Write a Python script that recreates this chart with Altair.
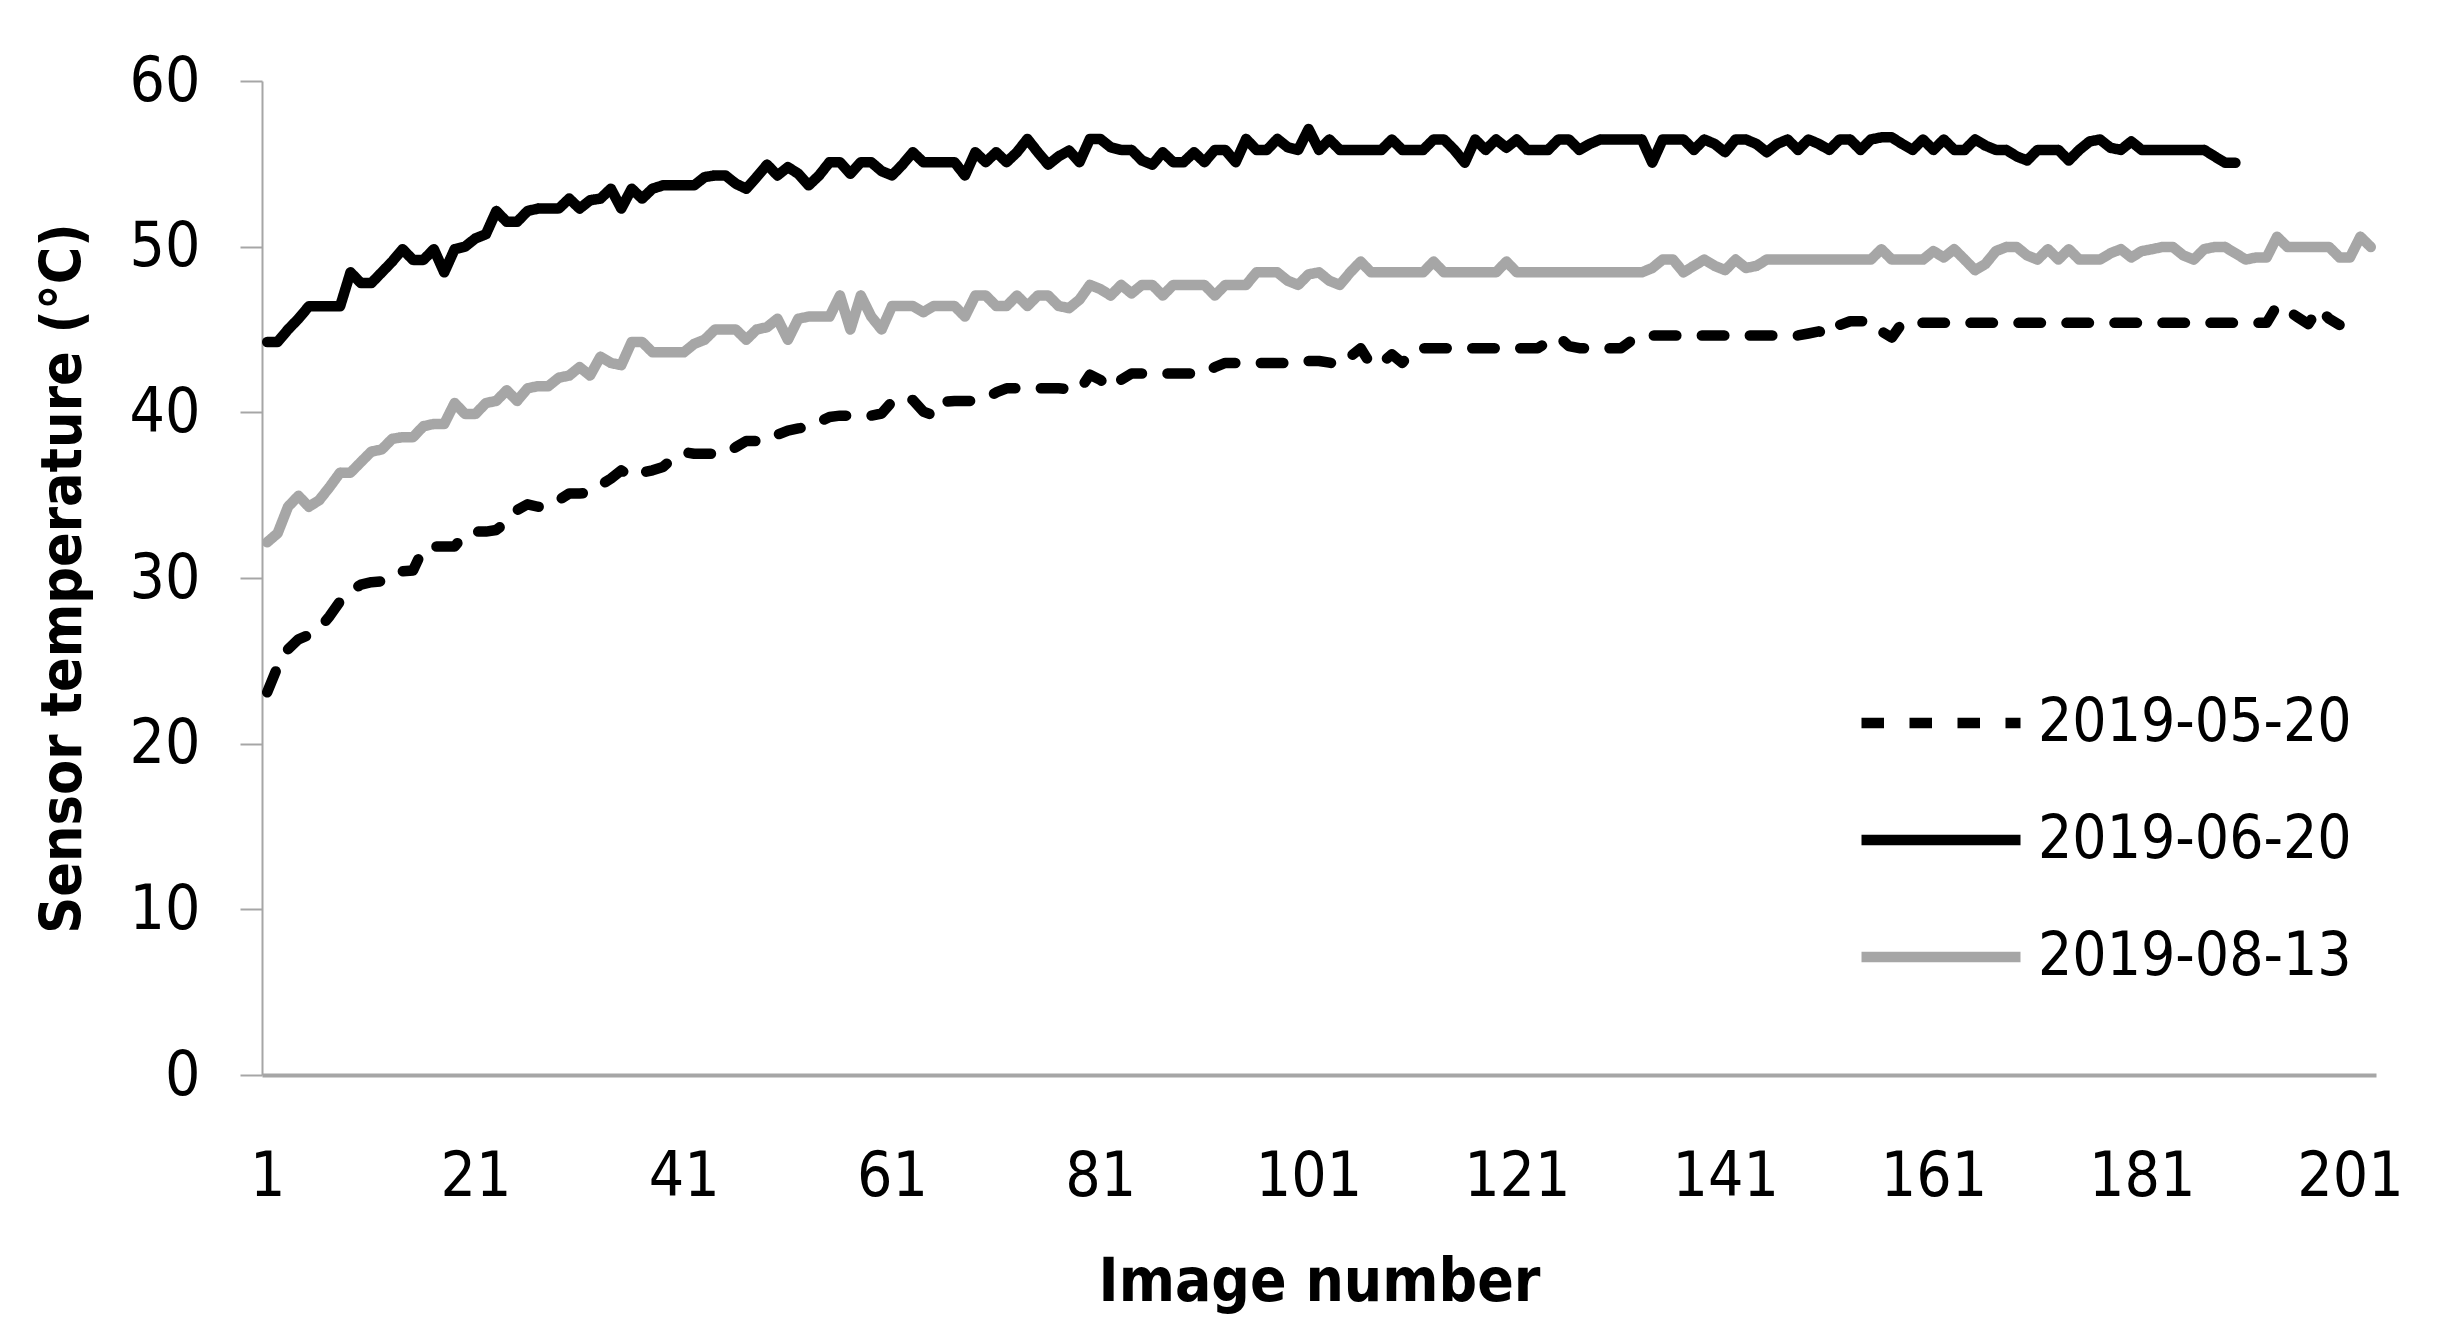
import altair as alt
import pandas as pd

FONT = "DejaVu Sans Condensed, DejaVu Sans"

series_names = ["2019-05-20", "2019-06-20", "2019-08-13"]

temp_0520 = [
    23.1, 24.65, 25.7, 26.3, 26.56, 26.95, 27.7, 28.6, 29.2, 29.6,
    29.75, 29.8, 30.25, 30.4, 30.45, 31.8, 31.9, 31.9, 31.9, 32.67,
    32.8, 32.8, 32.9, 33.4, 34.1, 34.45, 34.3, 34.3, 34.7, 35.1,
    35.1, 35.15, 35.6, 36.0, 36.5, 36.1, 36.36, 36.5, 36.7, 37.25,
    37.6, 37.5, 37.5, 37.5, 37.5, 37.9, 38.27, 38.27, 38.27, 38.65,
    38.9, 39.03, 39.11, 39.42, 39.72, 39.8, 39.8, 39.8, 39.8, 39.93,
    40.64, 40.94, 40.74, 40.05, 39.8, 40.64, 40.69, 40.69, 40.69, 40.82,
    41.2, 41.45, 41.45, 41.45, 41.45, 41.45, 41.45, 41.4, 41.33, 42.27,
    41.96, 41.45, 41.96, 42.34, 42.34, 42.34, 42.34, 42.34, 42.34, 42.34,
    42.34, 42.73, 42.98, 42.98, 42.98, 42.98, 42.98, 42.98, 42.98, 42.98,
    43.1, 43.1, 43.0, 42.85, 43.36, 43.87, 42.85, 42.98, 43.5, 42.98,
    43.74, 43.87, 43.87, 43.87, 43.87, 43.87, 43.87, 43.87, 43.87, 43.87,
    43.87, 43.87, 43.87, 44.25, 44.56, 44.0, 43.87, 43.87, 43.87, 43.87,
    43.87, 44.33, 44.64, 44.64, 44.64, 44.64, 44.64, 44.64, 44.64, 44.64,
    44.64, 44.64, 44.64, 44.64, 44.64, 44.64, 44.64, 44.64, 44.76, 44.89,
    44.64, 45.27, 45.5, 45.5, 45.47, 44.89, 44.51, 45.4, 45.4, 45.4,
    45.4, 45.4, 45.4, 45.4, 45.4, 45.4, 45.4, 45.4, 45.4, 45.4,
    45.4, 45.4, 45.4, 45.4, 45.4, 45.4, 45.4, 45.4, 45.4, 45.4,
    45.4, 45.4, 45.4, 45.4, 45.4, 45.4, 45.4, 45.4, 45.4, 45.4,
    45.4, 45.4, 45.4, 46.46, 46.16, 45.73, 45.32, 46.29, 45.65, 45.27,
]

temp_0620 = [
    44.25, 44.25, 45.0, 45.65, 46.4, 46.4, 46.4, 46.4, 48.45, 47.8,
    47.8, 48.45, 49.1, 49.85, 49.2, 49.2, 49.85, 48.45, 49.85, 50.0,
    50.5, 50.75, 52.15, 51.5, 51.5, 52.15, 52.3, 52.3, 52.3, 52.9,
    52.3, 52.8, 52.9, 53.5, 52.3, 53.5, 52.9, 53.5, 53.7, 53.7,
    53.7, 53.7, 54.2, 54.3, 54.3, 53.8, 53.5, 54.2, 54.95, 54.3,
    54.8, 54.4, 53.7, 54.3, 55.1, 55.1, 54.4, 55.1, 55.1, 54.56,
    54.3, 54.95, 55.7, 55.1, 55.1, 55.1, 55.1, 54.3, 55.7, 55.1,
    55.7, 55.1, 55.7, 56.5, 55.7, 54.95, 55.45, 55.8, 55.1, 56.5,
    56.5, 56.0, 55.84, 55.84, 55.2, 54.95, 55.7, 55.1, 55.1, 55.7,
    55.1, 55.84, 55.84, 55.1, 56.5, 55.84, 55.84, 56.5, 56.0, 55.84,
    57.1, 55.84, 56.47, 55.84, 55.84, 55.84, 55.84, 55.84, 56.47, 55.84,
    55.84, 55.84, 56.47, 56.47, 55.84, 55.07, 56.47, 55.84, 56.47, 55.97,
    56.47, 55.84, 55.84, 55.84, 56.47, 56.47, 55.84, 56.2, 56.47, 56.47,
    56.47, 56.47, 56.47, 55.07, 56.47, 56.47, 56.47, 55.84, 56.47, 56.2,
    55.7, 56.47, 56.47, 56.2, 55.7, 56.2, 56.47, 55.84, 56.47, 56.2,
    55.84, 56.47, 56.47, 55.84, 56.47, 56.6, 56.6, 56.2, 55.84, 56.47,
    55.84, 56.47, 55.84, 55.84, 56.47, 56.1, 55.84, 55.84, 55.45, 55.2,
    55.84, 55.84, 55.84, 55.2, 55.84, 56.35, 56.47, 55.97, 55.84, 56.35,
    55.84, 55.84, 55.84, 55.84, 55.84, 55.84, 55.84, 55.45, 55.07, 55.07,
]

temp_0813 = [
    32.16, 32.7, 34.3, 34.96, 34.3, 34.7, 35.5, 36.36, 36.36, 37.0,
    37.63, 37.76, 38.4, 38.5, 38.5, 39.16, 39.3, 39.3, 40.56, 39.9,
    39.9, 40.56, 40.69, 41.33, 40.69, 41.45, 41.58, 41.58, 42.09, 42.22,
    42.73, 42.22, 43.36, 42.98, 42.85, 44.25, 44.25, 43.62, 43.62, 43.62,
    43.62, 44.13, 44.38, 45.0, 45.0, 45.0, 44.38, 45.0, 45.14, 45.65,
    44.38, 45.65, 45.78, 45.78, 45.78, 47.05, 45.0, 47.05, 45.78, 45.0,
    46.42, 46.42, 46.42, 46.04, 46.42, 46.42, 46.42, 45.78, 47.05, 47.05,
    46.42, 46.42, 47.05, 46.42, 47.05, 47.05, 46.42, 46.29, 46.8, 47.69,
    47.44, 47.05, 47.69, 47.18, 47.69, 47.69, 47.05, 47.69, 47.69, 47.69,
    47.69, 47.05, 47.69, 47.69, 47.69, 48.45, 48.45, 48.45, 47.94, 47.69,
    48.33, 48.45, 47.94, 47.69, 48.45, 49.1, 48.45, 48.45, 48.45, 48.45,
    48.45, 48.45, 49.1, 48.45, 48.45, 48.45, 48.45, 48.45, 48.45, 49.1,
    48.45, 48.45, 48.45, 48.45, 48.45, 48.45, 48.45, 48.45, 48.45, 48.45,
    48.45, 48.45, 48.45, 48.71, 49.22, 49.22, 48.45, 48.84, 49.22, 48.84,
    48.58, 49.22, 48.71, 48.84, 49.22, 49.22, 49.22, 49.22, 49.22, 49.22,
    49.22, 49.22, 49.22, 49.22, 49.22, 49.85, 49.22, 49.22, 49.22, 49.22,
    49.73, 49.35, 49.85, 49.22, 48.58, 48.96, 49.73, 49.98, 49.98, 49.47,
    49.22, 49.85, 49.22, 49.85, 49.22, 49.22, 49.22, 49.6, 49.85, 49.35,
    49.73, 49.85, 49.98, 49.98, 49.47, 49.22, 49.85, 49.98, 49.98, 49.6,
    49.22, 49.35, 49.35, 50.6, 49.98, 49.98, 49.98, 49.98, 49.98, 49.35,
    49.35, 50.6, 49.98,
]

x_tick_values = list(range(1, 202, 20))
y_tick_values = [0, 10, 20, 30, 40, 50, 60]

rows = []
for name, vals in zip(series_names, [temp_0520, temp_0620, temp_0813]):
    for i, v in enumerate(vals):
        rows.append({"image": i + 1, "temp": v, "series": name})
df = pd.DataFrame(rows)

legend = alt.Legend(
    title=None,
    orient="none",
    legendX=1649,
    legendY=612,
    padding=0,
    symbolType="M-5.3,0L5.3,0",
    symbolSize=900,
    symbolStrokeWidth=10.5,
    labelFont=FONT,
    labelFontSize=60,
    labelColor="black",
    labelOffset=67,
    labelLimit=1000,
    rowPadding=57,
)

chart = (
    alt.Chart(df)
    .mark_line(strokeWidth=10.5, strokeCap="round", strokeJoin="round")
    .encode(
        x=alt.X(
            "image:Q",
            scale=alt.Scale(domain=[0.5, 203.5], nice=False, zero=False),
            axis=alt.Axis(
                values=x_tick_values,
                title="Image number",
                ticks=False,
                tickSize=0,
                grid=False,
                labelPadding=71,
                labelFont=FONT,
                labelFontSize=62,
                labelColor="black",
                labelBaseline="top",
                labelFlush=False,
                labelOverlap=False,
                domainColor="#a6a6a6",
                domainWidth=4,
                titleFont=FONT,
                titleFontSize=60,
                titleFontWeight="bold",
                titleColor="black",
                titleBaseline="alphabetic",
                titleY=225,
            ),
        ),
        y=alt.Y(
            "temp:Q",
            scale=alt.Scale(domain=[0, 60], nice=False),
            axis=alt.Axis(
                values=y_tick_values,
                title="Sensor temperature (°C)",
                grid=False,
                ticks=True,
                tickSize=22,
                tickWidth=2,
                tickColor="#a6a6a6",
                domainColor="#a6a6a6",
                domainWidth=2,
                labelPadding=40,
                labelFont=FONT,
                labelFontSize=62,
                labelColor="black",
                titleFont=FONT,
                titleFontSize=57,
                titleFontWeight="bold",
                titleColor="black",
                titleBaseline="alphabetic",
                titleX=-182,
            ),
        ),
        color=alt.Color(
            "series:N",
            scale=alt.Scale(domain=series_names, range=["#000000", "#000000", "#a6a6a6"]),
            legend=legend,
        ),
        strokeDash=alt.StrokeDash(
            "series:N",
            scale=alt.Scale(domain=series_names, range=[[22.5, 25.5], [1, 0], [1, 0]]),
            legend=legend,
        ),
    )
    .properties(
        width=2114,
        height=994,
        autosize=alt.AutoSizeParams(type="none"),
        padding={"left": 254, "top": 73, "right": 60, "bottom": 250},
    )
    .configure_view(stroke=None)
)

chart.save("out.html", embed_options={"renderer": "svg", "actions": False})
